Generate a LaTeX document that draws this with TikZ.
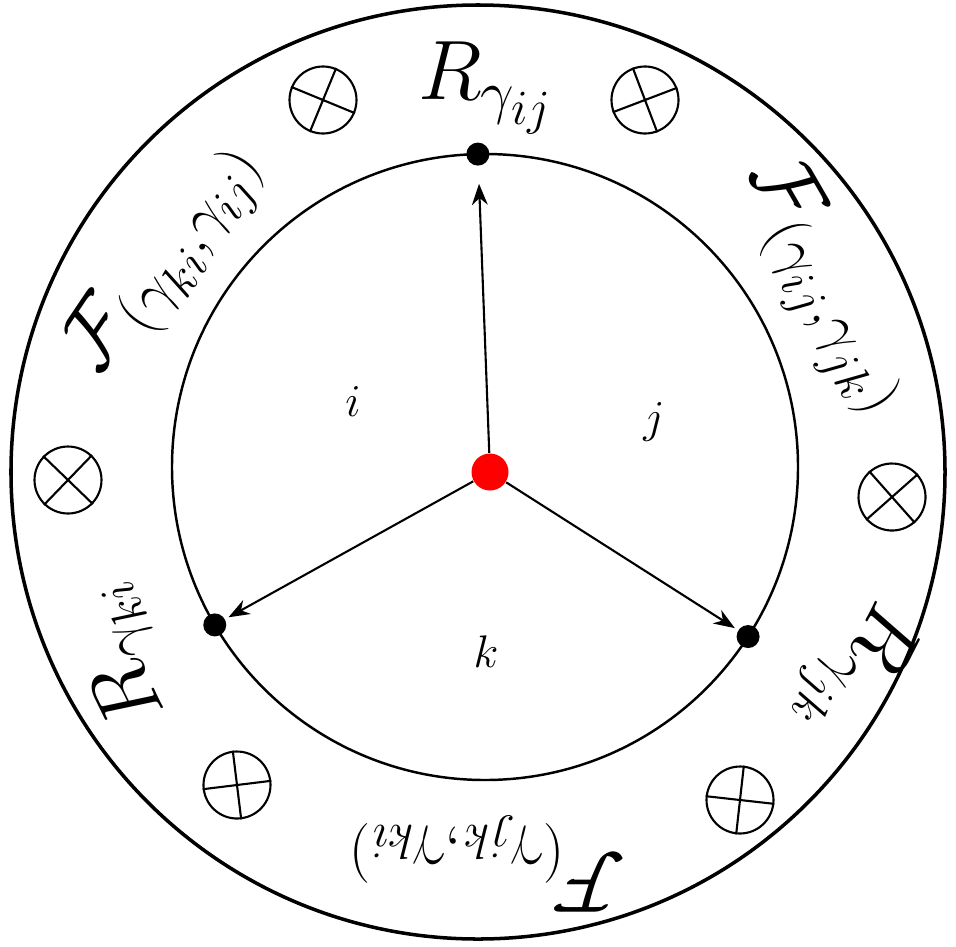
\RequirePackage{fix-cm}
\documentclass[tikz,border=0pt]{standalone}
\usetikzlibrary{arrows.meta, calc}
\DeclareMathSizes{24}{24}{17}{14}

\begin{document}
\begin{tikzpicture}[x=1cm, y=1cm,
  lbl/.style={font=\fontsize{24pt}{28pt}\selectfont, inner sep=0pt},
  reg/.style={font=\fontsize{13pt}{15pt}\selectfont, inner sep=0pt},
  pt/.style={circle, fill=black, inner sep=0pt, minimum size=0.23cm},
  otm/.style={circle, draw, line width=0.6pt, inner sep=0pt, minimum size=0.67cm},
  arr/.style={-{Stealth[length=6pt, width=4.5pt]}, line width=0.6pt}
]
\useasboundingbox (-4.78,-4.74) rectangle (4.78,4.72);
% the two rings
\draw[line width=1pt] (0,0) circle (4.67);
\coordinate (ic) at (0.07,0.05);
\draw[line width=0.7pt] (ic) circle (3.13);
% points on the inner ring and the centre
\node[pt] (ptop) at ($(ic)+(91.3:3.13)$) {};
\node[pt] (pleft) at ($(ic)+(210.3:3.13)$) {};
\node[pt] (pright) at ($(ic)+(327.2:3.13)$) {};
\node[circle, fill=red, inner sep=0pt, minimum size=0.37cm] (ctr) at (0.12,0) {};
\draw[arr, shorten >=5pt] (ctr) -- (ptop);
\draw[arr, shorten >=1pt] (ctr) -- (pleft);
\draw[arr, shorten >=1pt] (ctr) -- (pright);
% regions
\node[reg] (ri) at (-1.25,0.70) {$i$};
\node[reg] (rj) at (1.76,0.50) {$j$};
\node[reg] (rk) at (0.08,-1.80) {$k$};
% labels round the ring
\node[lbl] (rij) at (0.08,3.84) {$R_{\gamma_{ij}}$};
\node[lbl, rotate=-60] (fijjk) at (3.46,1.85) {$\mathcal{F}_{(\gamma_{ij},\gamma_{jk})}$};
\node[lbl, rotate=-117] (rjk) at (3.76,-1.96) {$R_{\gamma_{jk}}$};
\node[lbl, rotate=180] (fjkki) at (0.08,-3.92) {$\mathcal{F}_{(\gamma_{jk},\gamma_{ki})}$};
\node[lbl, rotate=116] (rki) at (-3.57,-1.84) {$R_{\gamma_{ki}}$};
\node[lbl, rotate=56] (fkiij) at (-3.12,2.12) {$\mathcal{F}_{(\gamma_{ki},\gamma_{ij})}$};
% crossed circles
\foreach \n/\p/\r in {o1/{(-1.55,3.72)}/22.6, o2/{(1.67,3.72)}/-24.2,
    o3/{(-4.10,-0.08)}/91, o4/{(4.14,-0.25)}/-93.5,
    o5/{(-2.41,-3.13)}/142, o6/{(2.62,-3.28)}/-141.4} {
  \node[otm, rotate=\r] (\n) at \p {};
  \draw[line width=0.6pt] (\n.north east) -- (\n.south west)
    (\n.north west) -- (\n.south east);
}
\end{tikzpicture}
\end{document}
